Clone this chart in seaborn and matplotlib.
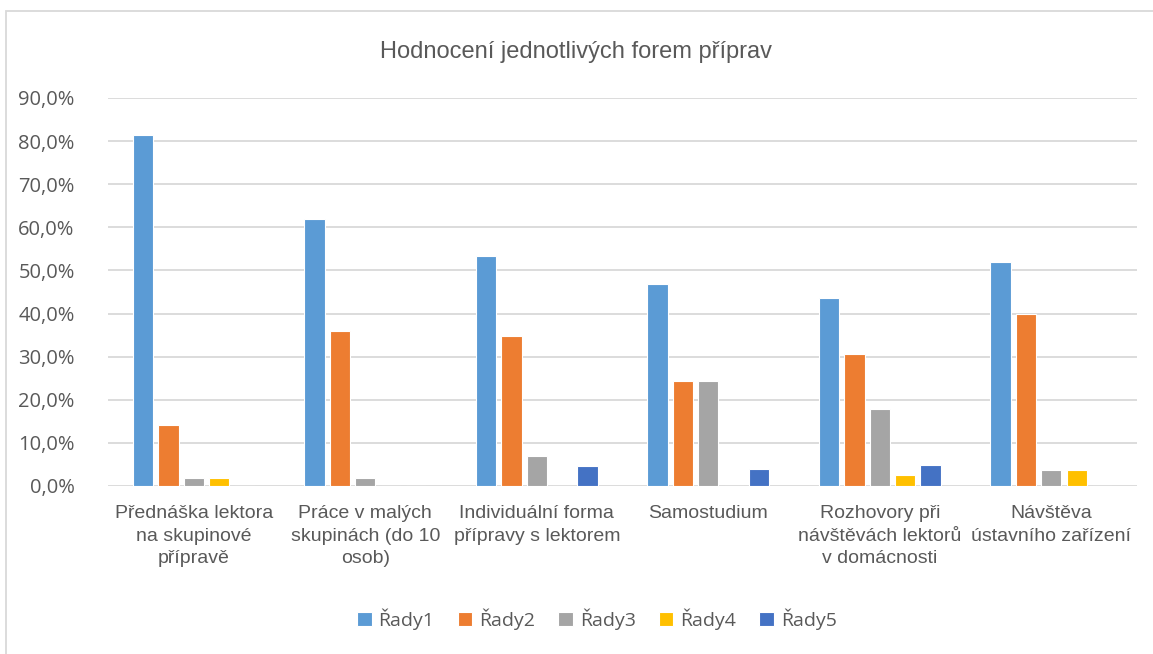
import pandas as pd
import matplotlib.pyplot as plt
import seaborn as sns
from matplotlib.ticker import FuncFormatter
from matplotlib.patches import Rectangle

# Kategorie (osa x) a hodnoty jednotlivých řad v %
categories = [
    "Přednáška lektora\nna skupinové\npřípravě",
    "Práce v malých\nskupinách (do 10\nosob)",
    "Individuální forma\npřípravy s lektorem",
    "Samostudium",
    "Rozhovory při\nnávštěvách lektorů\nv domácnosti",
    "Návštěva\nústavního zařízení",
]
series_names = ["Řady1", "Řady2", "Řady3", "Řady4", "Řady5"]
rady1 = [81.5, 61.9, 53.4, 46.8, 43.5, 51.9]
rady2 = [14.1, 35.9, 34.8, 24.3, 30.6, 39.9]
rady3 = [1.9, 1.9, 6.9, 24.3, 17.8, 3.8]
rady4 = [1.9, 0.0, 0.0, 0.0, 2.5, 3.8]
rady5 = [0.0, 0.0, 4.6, 4.0, 4.9, 0.0]
colors = ["#5B9BD5", "#ED7D31", "#A5A5A5", "#FFC000", "#4472C4"]

rows = []
for name, vals in zip(series_names, [rady1, rady2, rady3, rady4, rady5]):
    for cat, v in zip(categories, vals):
        rows.append({"kategorie": cat, "rada": name, "hodnota": v})
df = pd.DataFrame(rows)

sns.set_theme(style="white")
plt.rcParams['font.family'] = ['Liberation Sans', 'DejaVu Sans']
text_color = "#595959"

fig = plt.figure(figsize=(11.53, 6.54), dpi=100)
ax = fig.add_axes([0.0937, 0.2569, 0.8925, 0.5933])

sns.barplot(data=df, x="kategorie", y="hodnota", hue="rada", palette=colors,
            saturation=1, width=0.74, gap=0.2, ax=ax, legend=True,
            edgecolor="white", linewidth=0.8)

ax.set_ylim(0, 90)
ax.set_yticks(range(0, 91, 10))
ax.yaxis.set_major_formatter(FuncFormatter(lambda v, p: f"{v:.1f}%".replace(".", ",")))
ax.grid(axis="y", color="#D9D9D9", linewidth=1.3)
ax.set_axisbelow(True)
for s in ax.spines.values():
    s.set_visible(False)
ax.set_xlabel("")
ax.set_ylabel("")
ax.tick_params(axis="y", colors=text_color, pad=24, length=0)
ax.tick_params(axis="x", labelsize=14, colors=text_color, pad=14, length=0)
for lbl in ax.get_xticklabels():
    lbl.set_linespacing(1.42)
for lbl in ax.get_yticklabels():
    lbl.set_family(['Open Sans', 'DejaVu Sans'])
    lbl.set_fontsize(14.5)

fig.suptitle("Hodnocení jednotlivých forem příprav", y=0.937, fontsize=17, color=text_color)

ax.legend(loc="upper center", bbox_to_anchor=(0.475, -0.27), ncol=5, frameon=False,
          handlelength=0.75, handleheight=0.75, handletextpad=0.35,
          columnspacing=1.2, labelcolor=text_color,
          prop={'family': ['Open Sans', 'DejaVu Sans'], 'size': 14})

# rámeček grafu
fig.patches.append(Rectangle((6 / 1153, -0.05), 1.2, 1 - 11 / 654 + 0.05,
                             transform=fig.transFigure, fill=False,
                             edgecolor="#D9D9D9", linewidth=1.3))

plt.savefig("out.png", dpi=100)
